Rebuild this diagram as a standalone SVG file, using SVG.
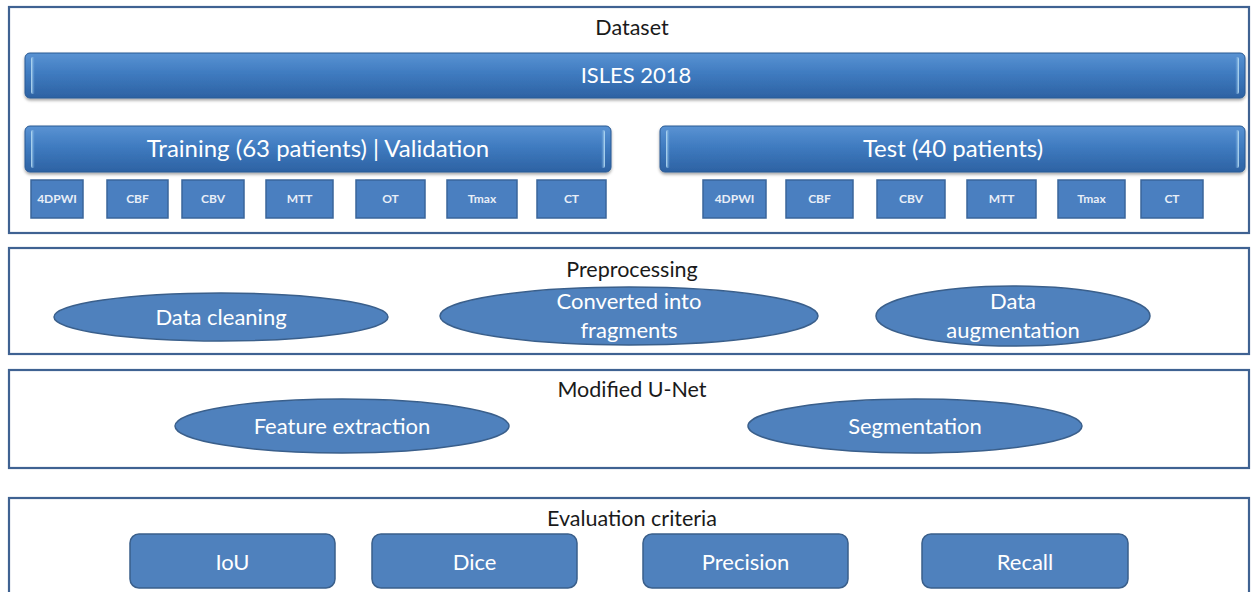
<svg xmlns="http://www.w3.org/2000/svg" width="1252" height="592" viewBox="0 0 1252 592">
  <defs>
    <linearGradient id="barFill" x1="0" y1="0" x2="0" y2="1">
      <stop offset="0" stop-color="#5a93d3"/>
      <stop offset="0.45" stop-color="#3f7bc0"/>
      <stop offset="1" stop-color="#2d62a3"/>
    </linearGradient>
    <linearGradient id="capGlow" x1="0" y1="0" x2="1" y2="0">
      <stop offset="0" stop-color="#bfe3f7"/>
      <stop offset="1" stop-color="#5e9ad6" stop-opacity="0"/>
    </linearGradient>
    <linearGradient id="capGlowR" x1="1" y1="0" x2="0" y2="0">
      <stop offset="0" stop-color="#bfe3f7"/>
      <stop offset="1" stop-color="#5e9ad6" stop-opacity="0"/>
    </linearGradient>
    <filter id="shadow" x="-5%" y="-20%" width="110%" height="150%">
      <feGaussianBlur in="SourceAlpha" stdDeviation="1.6"/>
      <feOffset dy="2" result="b"/>
      <feFlood flood-color="#000" flood-opacity="0.35"/>
      <feComposite in2="b" operator="in"/>
      <feMerge><feMergeNode/><feMergeNode in="SourceGraphic"/></feMerge>
    </filter>
  </defs>
  <style>
    .panel { fill: #ffffff; stroke: #3f6292; stroke-width: 2.2; }
    .title { font-family: Lato, "Open Sans", "Liberation Sans", sans-serif; font-size: 21.5px; fill: #1a1a1a; text-anchor: middle; }
    .bar { fill: url(#barFill); stroke: #2a5a94; stroke-width: 1; }
    .bartext { font-family: Lato, "Open Sans", "Liberation Sans", sans-serif; font-size: 24px; fill: #ffffff; text-anchor: middle; }
    .chip { fill: #4a7fc0; stroke: #3a659b; stroke-width: 1.5; }
    .chiptext { font-family: Lato, "Open Sans", "Liberation Sans", sans-serif; font-size: 12px; font-weight: bold; fill: #e8eef7; text-anchor: middle; }
    .oval { fill: #4f81bd; stroke: #3a5f8b; stroke-width: 1.5; }
    .label { font-family: Lato, "Open Sans", "Liberation Sans", sans-serif; font-size: 22px; fill: #ffffff; text-anchor: middle; }
    .metric { fill: #4f81bd; stroke: #3a5f8b; stroke-width: 1.5; }
  </style>

  <rect width="1252" height="592" fill="#ffffff"/>

  <!-- Dataset section -->
  <g id="dataset">
    <rect class="panel" x="9" y="7" width="1240" height="226"/>
    <text class="title" x="632" y="35">Dataset</text>
  </g>

  <g id="isles2018">
    <rect class="bar" x="25" y="53" width="1220" height="45" rx="5" filter="url(#shadow)"/>
    <rect x="31" y="57" width="4" height="37" rx="2" fill="url(#capGlow)"/>
    <rect x="1235" y="57" width="4" height="37" rx="2" fill="url(#capGlowR)"/>
    <text class="bartext" x="636" y="83" style="font-size:22px">ISLES 2018</text>
  </g>

  <g id="training">
    <rect class="bar" x="25" y="126" width="586" height="46" rx="5" filter="url(#shadow)"/>
    <rect x="31" y="130" width="4" height="38" rx="2" fill="url(#capGlow)"/>
    <rect x="601" y="130" width="4" height="38" rx="2" fill="url(#capGlowR)"/>
    <text class="bartext" x="318" y="157">Training (63 patients) | Validation</text>
  </g>

  <g id="test">
    <rect class="bar" x="660" y="126" width="585" height="46" rx="5" filter="url(#shadow)"/>
    <rect x="666" y="130" width="4" height="38" rx="2" fill="url(#capGlow)"/>
    <rect x="1235" y="130" width="4" height="38" rx="2" fill="url(#capGlowR)"/>
    <text class="bartext" x="953" y="157">Test (40 patients)</text>
  </g>

  <!-- Training modalities -->
  <g id="train-4dpwi"><rect class="chip" x="31" y="180" width="52" height="38"/><text class="chiptext" x="57" y="203">4DPWI</text></g>
  <g id="train-cbf"><rect class="chip" x="107" y="180" width="61" height="38"/><text class="chiptext" x="137.5" y="203">CBF</text></g>
  <g id="train-cbv"><rect class="chip" x="182" y="180" width="62" height="38"/><text class="chiptext" x="213" y="203">CBV</text></g>
  <g id="train-mtt"><rect class="chip" x="266" y="180" width="67" height="38"/><text class="chiptext" x="299.5" y="203">MTT</text></g>
  <g id="train-ot"><rect class="chip" x="356" y="180" width="69" height="38"/><text class="chiptext" x="390.5" y="203">OT</text></g>
  <g id="train-tmax"><rect class="chip" x="447" y="180" width="70" height="38"/><text class="chiptext" x="482" y="203">Tmax</text></g>
  <g id="train-ct"><rect class="chip" x="537" y="180" width="69" height="38"/><text class="chiptext" x="571.5" y="203">CT</text></g>

  <!-- Test modalities -->
  <g id="test-4dpwi"><rect class="chip" x="703" y="180" width="63" height="38"/><text class="chiptext" x="734.5" y="203">4DPWI</text></g>
  <g id="test-cbf"><rect class="chip" x="786" y="180" width="67" height="38"/><text class="chiptext" x="819.5" y="203">CBF</text></g>
  <g id="test-cbv"><rect class="chip" x="877" y="180" width="68" height="38"/><text class="chiptext" x="911" y="203">CBV</text></g>
  <g id="test-mtt"><rect class="chip" x="967" y="180" width="69" height="38"/><text class="chiptext" x="1001.5" y="203">MTT</text></g>
  <g id="test-tmax"><rect class="chip" x="1058" y="180" width="67" height="38"/><text class="chiptext" x="1091.5" y="203">Tmax</text></g>
  <g id="test-ct"><rect class="chip" x="1141" y="180" width="62" height="38"/><text class="chiptext" x="1172" y="203">CT</text></g>

  <!-- Preprocessing section -->
  <g id="preprocessing">
    <rect class="panel" x="9" y="248" width="1240" height="106"/>
    <text class="title" x="632" y="277">Preprocessing</text>
  </g>
  <g id="data-cleaning">
    <ellipse class="oval" cx="221" cy="317" rx="167" ry="24"/>
    <text class="label" x="221" y="325">Data cleaning</text>
  </g>
  <g id="fragments">
    <ellipse class="oval" cx="629" cy="316" rx="189" ry="29"/>
    <text class="label" x="629" y="309">Converted into</text>
    <text class="label" x="629" y="338">fragments</text>
  </g>
  <g id="augmentation">
    <ellipse class="oval" cx="1013" cy="316" rx="137" ry="30"/>
    <text class="label" x="1013" y="309">Data</text>
    <text class="label" x="1013" y="338">augmentation</text>
  </g>

  <!-- Modified U-Net section -->
  <g id="unet">
    <rect class="panel" x="9" y="370" width="1240" height="98"/>
    <text class="title" x="632" y="397">Modified U-Net</text>
  </g>
  <g id="feature-extraction">
    <ellipse class="oval" cx="342" cy="426" rx="167" ry="27"/>
    <text class="label" x="342" y="434">Feature extraction</text>
  </g>
  <g id="segmentation">
    <ellipse class="oval" cx="915" cy="426" rx="167" ry="27"/>
    <text class="label" x="915" y="434">Segmentation</text>
  </g>

  <!-- Evaluation section -->
  <g id="evaluation">
    <rect class="panel" x="9" y="498" width="1240" height="110"/>
    <text class="title" x="632" y="526">Evaluation criteria</text>
  </g>
  <g id="iou"><rect class="metric" x="130" y="534" width="205" height="54" rx="9"/><text class="label" x="232.5" y="570">IoU</text></g>
  <g id="dice"><rect class="metric" x="372" y="534" width="205" height="54" rx="9"/><text class="label" x="474.5" y="570">Dice</text></g>
  <g id="precision"><rect class="metric" x="643" y="534" width="205" height="54" rx="9"/><text class="label" x="745.5" y="570">Precision</text></g>
  <g id="recall"><rect class="metric" x="922" y="534" width="206" height="54" rx="9"/><text class="label" x="1025" y="570">Recall</text></g>
</svg>
